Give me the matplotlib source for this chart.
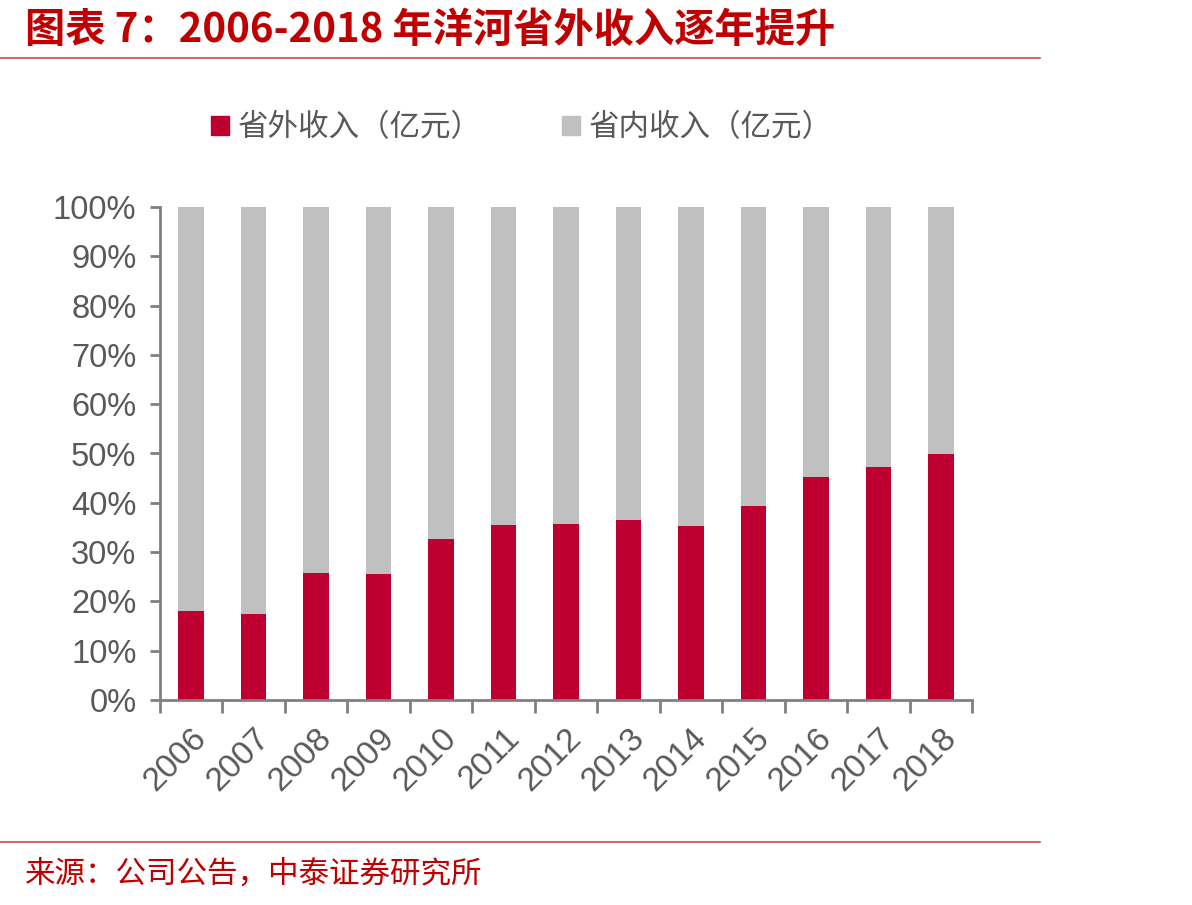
import matplotlib
matplotlib.use("Agg")
import matplotlib.pyplot as plt
import numpy as np
from matplotlib.patches import Rectangle
from matplotlib.lines import Line2D

plt.rcParams['font.family'] = ['Liberation Sans', 'Noto Sans CJK SC', 'DejaVu Sans']

years = ['2006', '2007', '2008', '2009', '2010', '2011', '2012',
         '2013', '2014', '2015', '2016', '2017', '2018']
outside_share = [18.0, 17.4, 25.8, 25.6, 32.7, 35.5, 35.8,
                 36.6, 35.3, 39.4, 45.2, 47.3, 49.9]
inside_share = [100 - v for v in outside_share]
series_names = ['省外收入（亿元）', '省内收入（亿元）']
yticks = [0, 10, 20, 30, 40, 50, 60, 70, 80, 90, 100]

RED = '#BE0030'
GRAY = '#C0C0C0'
AXIS = '#808080'
TXT = '#595959'
TITLE_RED = '#C00000'

W, H = 1192, 905
fig = plt.figure(figsize=(W / 100, H / 100), dpi=100)
ax = fig.add_axes([160 / W, 1 - 700 / H, (972 - 160) / W, (700 - 207) / H])

x = np.arange(len(years))
ax.bar(x, outside_share, width=0.41, color=RED, label=series_names[0])
ax.bar(x, inside_share, width=0.41, bottom=outside_share, color=GRAY, label=series_names[1])

ax.set_xlim(-0.5, len(years) - 0.5)
ax.set_ylim(0, 100)
ax.set_yticks(yticks)
ax.set_yticklabels([f'{v}%' for v in yticks], fontsize=23.5, color=TXT)
ax.set_xticks(x)
ax.set_xticklabels(years, rotation=45, ha='right', rotation_mode='anchor',
                   fontsize=24, color=TXT)
ax.tick_params(axis='x', length=0, pad=16)
ax.set_xticks(np.arange(len(years) + 1) - 0.5, minor=True)
ax.tick_params(axis='x', which='minor', length=9, width=2, color=AXIS, direction='out')
ax.tick_params(axis='y', length=7, width=2, color=AXIS, direction='out', pad=10)
for s in ['top', 'right']:
    ax.spines[s].set_visible(False)
for s in ['left', 'bottom']:
    ax.spines[s].set_color(AXIS)
    ax.spines[s].set_linewidth(2)

leg = fig.legend(handles=[Rectangle((0, 0), 1, 1, color=RED), Rectangle((0, 0), 1, 1, color=GRAY)],
                 labels=series_names, loc='center', bbox_to_anchor=(522 / W, 1 - 128 / H),
                 ncol=2, frameon=False, handlelength=0.6, handleheight=0.6, handletextpad=0.3,
                 columnspacing=2.6, prop={'family': ['Noto Sans CJK SC'], 'size': 22})
for t in leg.get_texts():
    t.set_color(TXT)

fig.text(25 / W, 1 - 30 / H, '图表 7：2006-2018 年洋河省外收入逐年提升', fontsize=29,
         fontweight='bold', fontstyle='italic', color=TITLE_RED, va='center', ha='left',
         family=['Noto Sans CJK SC', 'DejaVu Sans'])
fig.add_artist(Line2D([0, 1040 / W], [1 - 58 / H, 1 - 58 / H], color='#C0504D', lw=1.2))
fig.add_artist(Line2D([0, 1040 / W], [1 - 842 / H, 1 - 842 / H], color='#C0504D', lw=1.2))
fig.text(25 / W, 1 - 874 / H, '来源：公司公告，中泰证券研究所', fontsize=22, color=TITLE_RED,
         va='center', ha='left', family=['Noto Sans CJK SC', 'DejaVu Sans'])

fig.savefig('out.png', dpi=100, facecolor='white')
